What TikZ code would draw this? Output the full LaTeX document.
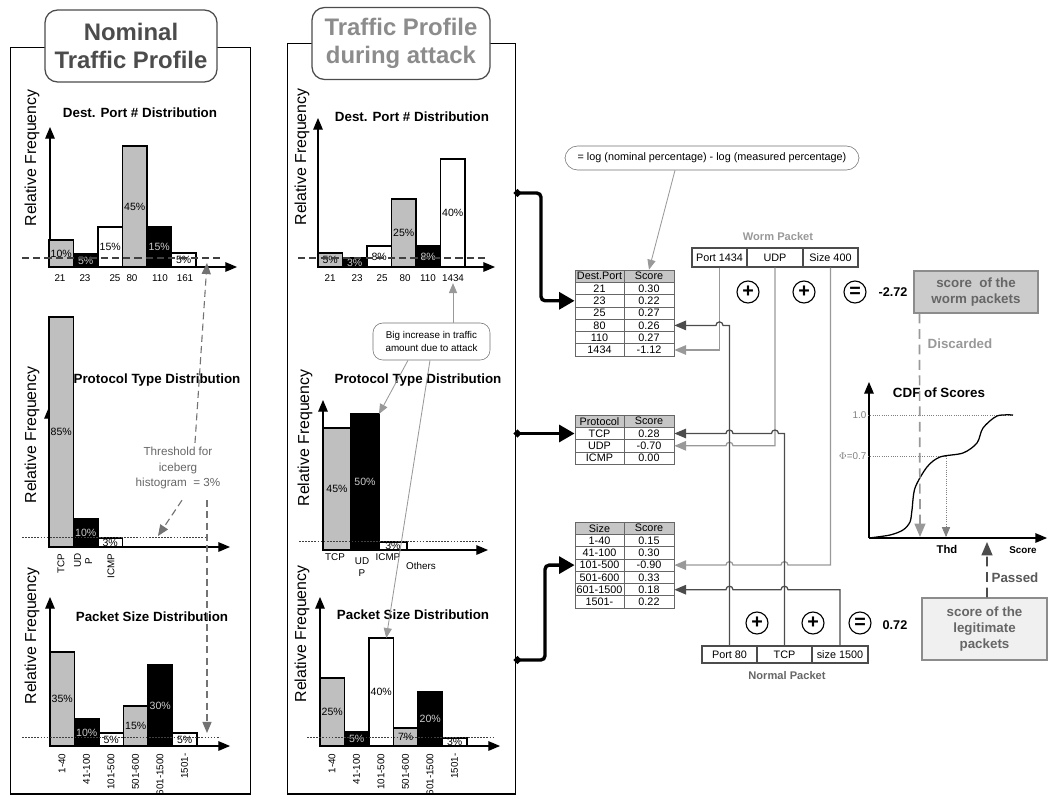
\documentclass[tikz,border=0pt]{standalone}
\usepackage{fontspec}
\setmainfont{Liberation Sans}
\usepackage{tikz}
\usetikzlibrary{shapes,arrows,arrows.meta,calc}

\begin{document}
\begin{tikzpicture}[x=0.025cm, y=-0.025cm, >=triangle 45,
  panel/.style={draw, line width=1pt},
  titlebox/.style={draw=black!70, fill=white, rounded corners=9pt, line width=0.9pt, align=center, minimum height=1.8cm, font=\bfseries\fontsize{17}{20}\selectfont},
  ctitle/.style={font=\bfseries\fontsize{9.5}{11}\selectfont},
  freq/.style={rotate=90, font=\fontsize{11.3}{13}\selectfont},
  axis/.style={->, line width=0.9pt},
  bar/.style={draw, line width=0.8pt, inner sep=0pt, outer sep=0pt, minimum width=0.6125cm, anchor=south west, font=\fontsize{7.5}{8}\selectfont},
  barg/.style={fill=gray!50},
  bark/.style={fill=black, text=gray!40},
  barw/.style={fill=white},
  tick/.style={font=\fontsize{7}{8}\selectfont, inner sep=1pt},
  vtick/.style={tick, rotate=90, anchor=east, align=center},
  cutdash/.style={dash pattern=on 5pt off 3pt, line width=0.8pt, black!75},
  cutdot/.style={dash pattern=on 1.2pt off 1pt, line width=0.5pt, black!75},
  note/.style={draw=black!55, fill=white, align=center, inner sep=1pt},
  grayarrow/.style={->, black!40, line width=0.6pt},
  thr/.style={->, dash pattern=on 5pt off 3pt, black!55, line width=0.8pt},
  cell/.style={draw=black!60, line width=0.6pt, minimum height=0.3075cm, inner sep=0pt, font=\fontsize{7.7}{8}\selectfont},
  cellh/.style={cell, fill=gray!45},
  field/.style={draw=black!70, fill=white, line width=0.8pt, inner sep=0pt, font=\fontsize{7.7}{8}\selectfont},
  op/.style={circle, draw, line width=0.8pt, minimum size=0.55cm, inner sep=0pt, font=\bfseries\fontsize{14}{14}\selectfont},
  res/.style={font=\bfseries\fontsize{9}{10}\selectfont},
  wlight/.style={->, black!40, line width=0.9pt},
  wdark/.style={->, black!70, line width=0.9pt},
  bigarrow/.style={{Circle[length=5pt]}-{Triangle[length=11pt,width=12pt]}, line width=2.4pt, rounded corners=3pt},
  scorebox/.style={draw=black!45, line width=0.8pt, align=center, font=\bfseries\fontsize{9.5}{12}\selectfont},
  cdfdot/.style={densely dotted, black!50, line width=0.6pt}]

\useasboundingbox (0,0) rectangle (1048,796);

% the two profiles
\node[panel, minimum width=6cm, minimum height=18.65cm, anchor=north west] (panA) at (10,47) {};
\node[panel, minimum width=5.7cm, minimum height=18.75cm, anchor=north west] (panB) at (287,43) {};
\node[titlebox, text=black!70, minimum width=4.3cm] (titA) at (131,46) {Nominal\\Traffic Profile};
\node[titlebox, text=black!45, minimum width=4.45cm] (titB) at (401,43.5) {Traffic Profile\\during attack};

% nominal: dest port
\node[freq] (fA1) at (32,158) {Relative Frequency};
\node[ctitle] (cA1) at (140,113) {Dest. Port \# Distribution};
\draw[axis] (50,267) -- (50,127);
\draw[axis] (50,267) -- (237,267);
\foreach \xl/\yt/\fc/\ft [count=\n] in {49/240/barg/10, 73.5/254/bark/5, 98/227/barw/15, 122.5/146/barg/45, 147/227/bark/15, 171.5/253/barw/5}
  \node[bar, \fc, minimum height={(267-\yt)*0.025cm}] (a1b\n) at (\xl,267) {\ft\%};
\draw[cutdash] (22,258) -- (222,258);
\foreach \x/\lab [count=\n] in {60/21, 85/23, 115/25, 132/80, 160/110, 185/161}
  \node[tick] (a1t\n) at (\x,278) {\lab};

% nominal: protocol
\node[freq] (fA2) at (32,435) {Relative Frequency};
\node[ctitle] (cA2) at (157,380) {Protocol Type Distribution};
\draw[axis] (49,547) -- (49,407);
\draw[axis] (49,547) -- (230,547);
\foreach \xl/\yt/\fc/\ft [count=\n] in {49/317/barg/85, 73.5/519/bark/10, 98/538/barw/3}
  \node[bar, \fc, minimum height={(547-\yt)*0.025cm}] (a2b\n) at (\xl,547) {\ft\%};
\draw[cutdot] (22,537) -- (207,537);
\node[vtick] (a2t1) at (61,552) {TCP};
\node[vtick] (a2t2) at (83,552) {UD\\P};
\node[vtick] (a2t3) at (111,552) {ICMP};

% nominal: packet size
\node[freq] (fA3) at (32,636) {Relative Frequency};
\node[ctitle] (cA3) at (152,617) {Packet Size Distribution};
\draw[axis] (50,746) -- (50,597);
\draw[axis] (50,746) -- (230,746);
\foreach \xl/\yt/\fc/\ft [count=\n] in {50/652/barg/35, 74.5/719/bark/10, 99/733/barw/5, 123.5/706/barg/15, 148/665/bark/30, 172.5/733/barw/5}
  \node[bar, \fc, minimum height={(746-\yt)*0.025cm}] (a3b\n) at (\xl,746) {\ft\%};
\draw[cutdot] (22,737) -- (220,737);
\foreach \x/\lab [count=\n] in {62/1-40, 86.5/41-100, 111/101-500, 135.5/501-600, 160/601-1500, 184.5/1501-}
  \node[vtick] (a3t\n) at (\x,752) {\lab};

% iceberg threshold
\node[font=\fontsize{8.3}{10.7}\selectfont, text=black!60, align=center, inner sep=1pt] (thresh) at (178,468) {Threshold for\\iceberg\\histogram \ = 3\%};
\coordinate (thA) at (207,263);
\coordinate (thB) at (158,536);
\coordinate (thC) at (207,733);
\draw[thr] (thresh.north) ++(17,-3) -- (thA);
\draw[thr] (thresh.south) ++(4,10) -- (thB);
\draw[thr] (thresh.south) ++(29,10) -- (thC);

% attack: dest port
\node[freq] (fB1) at (302,157) {Relative Frequency};
\node[ctitle] (cB1) at (412,117) {Dest. Port \# Distribution};
\draw[axis] (318,267) -- (318,118);
\draw[axis] (318,267) -- (495,267);
\foreach \xl/\yt/\fc/\ft [count=\n] in {318/253/barg/5, 342.5/258/bark/3, 367/246/barw/8, 391.5/199/barg/25, 416/246/bark/8, 440.5/159/barw/40}
  \node[bar, \fc, minimum height={(267-\yt)*0.025cm}] (b1b\n) at (\xl,267) {\ft\%};
\draw[cutdash] (298,258) -- (487,258);
\foreach \x/\lab [count=\n] in {330/21, 357/23, 382/25, 405/80, 428/110, 453/1434}
  \node[tick] (b1t\n) at (\x,278) {\lab};

% attack: protocol
\node[freq] (fB2) at (305,438) {Relative Frequency};
\node[ctitle] (cB2) at (418,380) {Protocol Type Distribution};
\draw[axis] (323,550) -- (323,400);
\draw[axis] (323,550) -- (488,550);
\foreach \xl/\yt/\fc/\ft [count=\n] in {323/428/barg/45, 351/414/bark/50, 379/542/barw/3}
  \node[bar, \fc, minimum width=0.7cm, minimum height={(550-\yt)*0.025cm}] (b2b\n) at (\xl,550) {\ft\%};
\draw[cutdot] (299,541) -- (483,541);
\node[tick] (b2t1) at (335,557) {TCP};
\node[tick, align=center] (b2t2) at (362,567) {UD\\P};
\node[tick] (b2t3) at (388,557) {ICMP};
\node[tick] (b2t4) at (421,566) {Others};

% attack: packet size
\node[freq] (fB3) at (302,634) {Relative Frequency};
\node[ctitle] (cB3) at (413,615) {Packet Size Distribution};
\draw[axis] (320,746) -- (320,597);
\draw[axis] (320,746) -- (500,746);
\foreach \xl/\yt/\fc/\ft [count=\n] in {320/678/barg/25, 344.5/732/bark/5, 369/638/barw/40, 393.5/728/barg/7, 418/692/bark/20, 442.5/738/barw/3}
  \node[bar, \fc, minimum height={(746-\yt)*0.025cm}] (b3b\n) at (\xl,746) {\ft\%};
\draw[cutdot] (307,737) -- (493,737);
\foreach \x/\lab [count=\n] in {332/1-40, 356.5/41-100, 381/101-500, 405.5/501-600, 430/601-1500, 454.5/1501-}
  \node[vtick] (b3t\n) at (\x,752) {\lab};

% big increase note
\node[note, rounded corners=7pt, minimum width=2.925cm, minimum height=0.925cm, font=\fontsize{7}{9}\selectfont] (bigup) at (431.5,341.5) {Big increase in traffic\\amount due to attack};
\draw[grayarrow] (bigup.north -| b1t6) -- (b1t6.south);
\draw[grayarrow] (bigup.south) ++(-23.5,0) -- (b2b2.north east);
\draw[grayarrow] (bigup.south) ++(-1.5,0) -- ($(b3b3.north)+(5,0)$);

% score tables
\node[cellh, minimum width=1.225cm] (t1h1) at (599.5,276.2) {Dest.Port};
\node[cellh, minimum width=1.25cm] (t1h2) at (649,276.2) {Score};
\foreach \a/\b [count=\n] in {21/0.30, 23/0.22, 25/0.27, 80/0.26, 110/0.27, 1434/-1.12}{
  \node[cell, minimum width=1.225cm] (t1a\n) at (599.5,{276.2+12.3*\n}) {\a};
  \node[cell, minimum width=1.25cm] (t1r\n) at (649,{276.2+12.3*\n}) {\b};
}
\node[cellh, minimum width=1.225cm] (t2h1) at (599.5,421.2) {Protocol};
\node[cellh, minimum width=1.25cm] (t2h2) at (649,421.2) {Score};
\foreach \a/\b [count=\n] in {TCP/0.28, UDP/-0.70, ICMP/0.00}{
  \node[cell, minimum width=1.225cm] (t2a\n) at (599.5,{421.2+12.3*\n}) {\a};
  \node[cell, minimum width=1.25cm] (t2r\n) at (649,{421.2+12.3*\n}) {\b};
}
\node[cellh, minimum width=1.225cm] (t3h1) at (599.5,528.2) {Size};
\node[cellh, minimum width=1.25cm] (t3h2) at (649,528.2) {Score};
\foreach \a/\b [count=\n] in {1-40/0.15, 41-100/0.30, 101-500/-0.90, 501-600/0.33, 601-1500/0.18, 1501-/0.22}{
  \node[cell, minimum width=1.225cm] (t3a\n) at (599.5,{528.2+12.3*\n}) {\a};
  \node[cell, minimum width=1.25cm] (t3r\n) at (649,{528.2+12.3*\n}) {\b};
}

\node[note, rounded corners=9pt, minimum width=7.35cm, minimum height=0.6cm, font=\fontsize{7.7}{9}\selectfont] (formula) at (712,158) {= log (nominal percentage) - log (measured percentage)};
\draw[grayarrow] (formula.south) ++(-37,0) -- (t1h2.north);

% profiles to tables
\coordinate (outA) at (514,193);
\coordinate (outB) at (514,433.5);
\coordinate (outC) at (514,660);
\draw[bigarrow] (outA) -- (541,193) |- (t1a2.west);
\draw[bigarrow] (outB) -- (t2a1.west);
\draw[bigarrow] (outC) -- (545,660) |- (t3a3.west);

% packets
\node[font=\bfseries\fontsize{7.9}{9}\selectfont, text=black!40] (wlab) at (778,237) {Worm Packet};
\node[field, minimum width=1.375cm, minimum height=0.475cm] (wPort) at (719.5,257.5) {Port 1434};
\node[field, minimum width=1.4cm, minimum height=0.475cm] (wUdp) at (775,257.5) {UDP};
\node[field, minimum width=1.375cm, minimum height=0.475cm] (wSize) at (830.5,257.5) {Size 400};
\node[field, minimum width=1.375cm, minimum height=0.425cm] (nPort) at (729.5,654.5) {Port 80};
\node[field, minimum width=1.375cm, minimum height=0.425cm] (nTcp) at (784.5,654.5) {TCP};
\node[field, minimum width=1.4cm, minimum height=0.425cm] (nSize) at (840,654.5) {size 1500};
\node[font=\bfseries\fontsize{7.9}{9}\selectfont, text=black!60] (nlab) at (787,676) {Normal Packet};

\draw[wlight] (wPort.south) |- (t1r6.east);
\draw[wlight] (wUdp.south) |- (733,445.8) arc (0:180:2.5pt) -- (t2r2.east);
\draw[wlight] (wSize.south) |- (788,565.1) arc (0:180:2.5pt) -- (733,565.1) arc (0:180:2.5pt) -- (t3r3.east);
\draw[wdark] (nPort.north) |- (723,325.4) arc (0:180:2.5pt) -- (t1r4.east);
\draw[wdark] (nTcp.north) |- (778.5,433.5) arc (0:180:2.5pt) -- (733,433.5) arc (0:180:2.5pt) -- (t2r1.east);
\draw[wdark] (nSize.north) |- (788,589.7) arc (0:180:2.5pt) -- (733,589.7) arc (0:180:2.5pt) -- (t3r5.east);

\node[op] (op1) at (748,292) {+};
\node[op] (op2) at (804,292) {+};
\node[op] (op3) at (855,292) {=};
\node[res] (wres) at (893,292) {-2.72};
\node[op] (op4) at (757,623) {+};
\node[op] (op5) at (813,623) {+};
\node[op] (op6) at (860,623) {=};
\node[res] (nres) at (895,625) {0.72};

% CDF of scores
\coordinate (cdfO) at (869,538);
\coordinate (cdfY) at (869,382);
\coordinate (cdfX) at (1047,538);
\draw[axis] (cdfO) -- (cdfY);
\draw[axis] (cdfO) -- (cdfX);
\node[ctitle] (cdfT) at (939,393) {CDF of Scores};
\node[tick, text=black!50, anchor=east] (one) at (868,415) {1.0};
\node[tick, text=black!50, anchor=east] (phi) at (868,456) {$\Phi$=0.7};
\draw[cdfdot] (one.east) -- (1013,415);
\draw[cdfdot] (phi.east) -- (946,456);
\draw[cdfdot, ->] (946,456) -- (946,537);
\draw[line width=0.9pt] plot[smooth, tension=0.5] coordinates {(869,538) (890,535) (903,530) (910,522) (912,510) (915,488) (927,467) (940,457) (963,453) (977,443) (983,428) (997,416) (1013,415)};
\node[font=\bfseries\fontsize{8}{9}\selectfont] (thd) at (947,549) {Thd};
\node[font=\bfseries\fontsize{7}{8}\selectfont] (score) at (1023,550) {Score};

\node[scorebox, fill=gray!40, text=black!60, minimum width=3.1cm, minimum height=1.05cm] (wscore) at (976,292) {score \ of the\\worm packets};
\node[scorebox, fill=gray!12, text=black!60, minimum width=3.125cm, minimum height=1.55cm, font=\bfseries\fontsize{9.5}{11.5}\selectfont] (lscore) at (984.5,629) {score of the\\legitimate\\packets};
\node[font=\bfseries\fontsize{9.5}{11}\selectfont, text=black!40] (disc) at (960,344) {Discarded};
\node[font=\bfseries\fontsize{9.5}{11}\selectfont, text=black!65] (pass) at (1015,578) {Passed};
\draw[->, dash pattern=on 7pt off 4pt, line width=1.2pt, black!40] (wscore.south west) ++(6,0) -- (920,537);
\draw[->, dash pattern=on 7pt off 4pt, line width=1.2pt, black!70] (lscore.north) ++(2.5,0) -- (987,542);

\end{tikzpicture}
\end{document}
